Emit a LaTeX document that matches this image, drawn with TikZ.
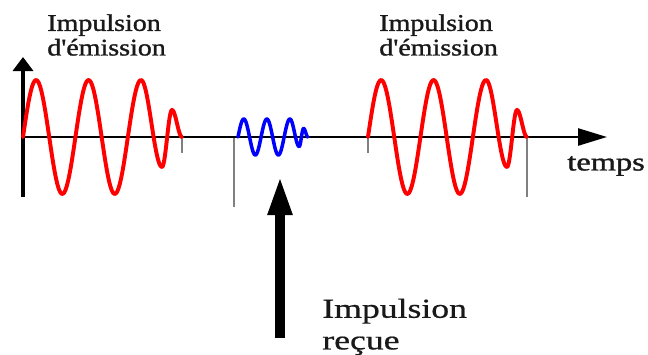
\documentclass[tikz,border=0pt]{standalone}
\usepackage{fontspec}
\setmainfont{Liberation Serif}
\newfontface\heavyserif{Liberation Serif}[FakeBold=1.2]
\newfontface\midserif{Liberation Serif}[FakeBold=0.6]
\usetikzlibrary{arrows.meta}

\begin{document}
\begin{tikzpicture}[
    x=0.025cm, y=0.025cm,
    xaxis/.style={draw, line width=1.8pt, -{Triangle[length=0.725cm, width=0.425cm]}},
    yaxis/.style={draw, line width=2.5pt, -{Triangle[length=0.35cm, width=0.5cm]}},
    bigarrow/.style={draw, line width=7.8pt, -{Triangle[length=1cm, width=0.55cm]}},
    tick/.style={draw=gray, line width=1.3pt},
    wave/.style={line width=2.8pt, line join=round, line cap=round},
    lbl/.style={align=left, anchor=west, inner sep=0pt, transform shape, text=black!90},
    pulse/.pic={
      \draw plot[domain=0:118, samples=90] (\x,{57*sin(6.865*\x)})
        -- plot[domain=118:139, samples=25] (\x,{13.5+43.5*cos(8.571*(\x-118))})
        -- plot[domain=139:149, samples=15] (\x,{-1.5-28.5*cos(18*(\x-139))})
        -- plot[domain=149:159, samples=15] (\x,{13.5+13.5*cos(18*(\x-149))});
    }
  ]
  \useasboundingbox (0,0) rectangle (648,-354);

  % axes
  \coordinate (O) at (23,-137);
  \coordinate (yBot) at (23,-197);
  \coordinate (yTop) at (23,-57);
  \coordinate (xEnd) at (607,-137);

  \draw[tick] (182,-137) -- (182,-153);
  \draw[tick] (234,-137) -- (234,-207);
  \draw[tick] (368,-137) -- (368,-153);
  \draw[tick] (527,-137) -- (527,-197);

  \draw[yaxis] (yBot) -- (yTop);
  \draw[xaxis] (O) -- (xEnd);

  % pulses
  \pic[red, wave] (emitA) at (23,-137) {pulse};
  \pic[blue, wave, line width=2.5pt, xscale=0.44, yscale=0.316] (echo) at (238,-137) {pulse};
  \pic[red, wave] (emitB) at (368,-137) {pulse};

  % received pulse arrow
  \coordinate (recTail) at (280,-338);
  \coordinate (recTip) at (280,-175);
  \draw[bigarrow] (recTail) -- (recTip);

  \node[lbl, xscale=1.17, font=\heavyserif\fontsize{17}{17.5}\selectfont] (emisA) at (47,-35) {Impulsion\\d\textquotesingle émission};
  \node[lbl, xscale=1.17, font=\heavyserif\fontsize{17}{17.5}\selectfont] (emisB) at (379,-35) {Impulsion\\d\textquotesingle émission};
  \node[lbl, xscale=1.28, font=\heavyserif\fontsize{18}{18}\selectfont] (temps) at (567,-166) {temps};
  \node[lbl, xscale=1.3, font=\midserif\fontsize{19.5}{22.5}\selectfont] (recue) at (322,-327) {Impulsion\\reçue};
\end{tikzpicture}
\end{document}
